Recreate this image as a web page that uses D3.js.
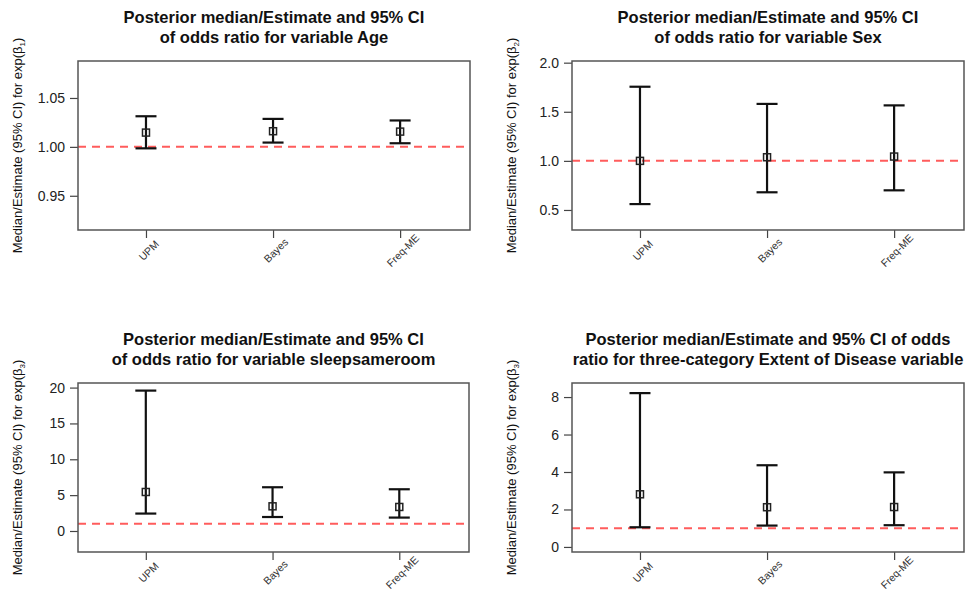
<!DOCTYPE html>
<html>
<head>
<meta charset="utf-8">
<script src="https://cdn.jsdelivr.net/npm/d3@7"></script>
<style>
  body { margin: 0; background: #fff; }
  svg { font-family: "Liberation Sans", Arial, sans-serif; }
</style>
</head>
<body>
<script>
// methods compared in every panel
var methods = ["UPM", "Bayes", "Freq-ME"];

// Age
var ageMedian = [1.0146, 1.0160, 1.0156],
    ageLower  = [0.9985, 1.0044, 1.0037],
    ageUpper  = [1.0313, 1.0286, 1.0270],
    ageTicks  = [0.95, 1.00, 1.05];

// Sex
var sexMedian = [1.00, 1.037, 1.044],
    sexLower  = [0.56, 0.68, 0.70],
    sexUpper  = [1.755, 1.58, 1.565],
    sexTicks  = [0.5, 1.0, 1.5, 2.0];

// sleepsameroom
var sleepMedian = [5.44, 3.44, 3.35],
    sleepLower  = [2.43, 1.95, 1.87],
    sleepUpper  = [19.58, 6.10, 5.82],
    sleepTicks  = [0, 5, 10, 15, 20];

// Extent of Disease
var extentMedian = [2.81, 2.12, 2.13],
    extentLower  = [1.05, 1.14, 1.16],
    extentUpper  = [8.21, 4.36, 3.98],
    extentTicks  = [0, 2, 4, 6, 8];

var refValue = 1;

var width = 971, height = 593;

var svg = d3.select("body")
    .append("svg")
    .attr("width", width)
    .attr("height", height);

//panel frames (box left/right/top/bottom) and y domains
var panels = [
    {box: [78, 470, 61, 230], dom: [0.915, 1.0878], fmt: d3.format(".2f"),
     med: ageMedian, lo: ageLower, hi: ageUpper, ticks: ageTicks, sub: "1",
     title: ["Posterior median/Estimate and 95% CI", "of odds ratio for variable Age"]},
    {box: [572, 964, 61, 230], dom: [0.296, 2.017], fmt: d3.format(".1f"),
     med: sexMedian, lo: sexLower, hi: sexUpper, ticks: sexTicks, sub: "2",
     title: ["Posterior median/Estimate and 95% CI", "of odds ratio for variable Sex"]},
    {box: [78, 469, 383, 552], dom: [-2.93, 20.64], fmt: d3.format("d"),
     med: sleepMedian, lo: sleepLower, hi: sleepUpper, ticks: sleepTicks, sub: "3",
     title: ["Posterior median/Estimate and 95% CI", "of odds ratio for variable sleepsameroom"]},
    {box: [572, 964, 383, 552], dom: [-0.27, 8.75], fmt: d3.format("d"),
     med: extentMedian, lo: extentLower, hi: extentUpper, ticks: extentTicks, sub: "3",
     title: ["Posterior median/Estimate and 95% CI of odds", "ratio for three-category Extent of Disease variable"]}
];

panels.forEach(drawPanel);

function drawPanel(p){
    var x0 = p.box[0], x1 = p.box[1], y0 = p.box[2], y1 = p.box[3];

    var x = d3.scaleLinear()
        .domain([0.465, 3.55])
        .range([x0, x1]);

    var y = d3.scaleLinear()
        .domain(p.dom)
        .range([y1, y0]);

    var g = svg.append("g");

    //title
    var cx = (x0 + x1) / 2;
    g.selectAll(".title")
        .data(p.title)
        .enter()
        .append("text")
        .attr("x", cx)
        .attr("y", function(d, i){ return y0 - 38 + i * 20; })
        .attr("text-anchor", "middle")
        .style("font-size", "16.5px")
        .style("font-weight", "bold")
        .attr("fill", "#111")
        .text(function(d){ return d; });

    //y axis
    var yAxis = d3.axisLeft(y)
        .tickValues(p.ticks)
        .tickFormat(p.fmt)
        .tickSize(8)
        .tickPadding(5);

    var ya = g.append("g")
        .attr("transform", "translate(" + x0 + ",0)")
        .call(yAxis);
    ya.select(".domain").remove();
    ya.selectAll("line").attr("stroke", "#444").attr("stroke-width", 1.2);
    ya.selectAll("text")
        .style("font-size", "14px")
        .attr("fill", "#222");

    //x axis
    var xAxis = d3.axisBottom(x)
        .tickValues([1, 2, 3])
        .tickFormat(function(d){ return methods[d - 1]; })
        .tickSize(8);

    var xa = g.append("g")
        .attr("transform", "translate(0," + y1 + ")")
        .call(xAxis);
    xa.select(".domain").remove();
    xa.selectAll("line").attr("stroke", "#444").attr("stroke-width", 1.2);
    xa.selectAll("text")
        .style("font-size", "10.5px")
        .attr("fill", "#333")
        .attr("text-anchor", "middle")
        .attr("dy", null)
        .attr("y", 0)
        .attr("transform", "translate(5,23) rotate(-45)");

    //y label with subscript
    var lab = g.append("text")
        .attr("transform", "translate(" + (x0 - 56) + "," + ((y0 + y1) / 2) + ") rotate(-90)")
        .attr("text-anchor", "middle")
        .style("font-size", "13px")
        .attr("fill", "#111");
    lab.append("tspan").text("Median/Estimate (95% CI) for exp(\u03B2");
    lab.append("tspan").attr("dy", 3).style("font-size", "8px").text(p.sub);
    lab.append("tspan").attr("dy", -3).text(")");

    //reference line at 1
    g.append("line")
        .attr("x1", x0).attr("x2", x1)
        .attr("y1", y(refValue)).attr("y2", y(refValue))
        .attr("stroke", "#ff5c5c")
        .attr("stroke-width", 2)
        .attr("stroke-dasharray", "8,6");

    //error bars
    var idx = [0, 1, 2];
    var bars = g.selectAll(".bar")
        .data(idx)
        .enter()
        .append("g")
        .attr("class", "bar");

    bars.append("line")
        .attr("x1", function(i){ return x(i + 1); })
        .attr("x2", function(i){ return x(i + 1); })
        .attr("y1", function(i){ return y(p.lo[i]); })
        .attr("y2", function(i){ return y(p.hi[i]); })
        .attr("stroke", "#111").attr("stroke-width", 2.2);

    ["lo", "hi"].forEach(function(k){
        bars.append("line")
            .attr("x1", function(i){ return x(i + 1) - 10.5; })
            .attr("x2", function(i){ return x(i + 1) + 10.5; })
            .attr("y1", function(i){ return y(p[k][i]); })
            .attr("y2", function(i){ return y(p[k][i]); })
            .attr("stroke", "#111").attr("stroke-width", 2.2);
    });

    bars.append("rect")
        .attr("x", function(i){ return x(i + 1) - 3.5; })
        .attr("y", function(i){ return y(p.med[i]) - 3.5; })
        .attr("width", 7).attr("height", 7)
        .attr("fill", "none")
        .attr("stroke", "#222").attr("stroke-width", 1.5);

    //plot box
    g.append("rect")
        .attr("x", x0).attr("y", y0)
        .attr("width", x1 - x0).attr("height", y1 - y0)
        .attr("fill", "none")
        .attr("stroke", "#555")
        .attr("stroke-width", 1.5);
}
</script>
</body>
</html>
